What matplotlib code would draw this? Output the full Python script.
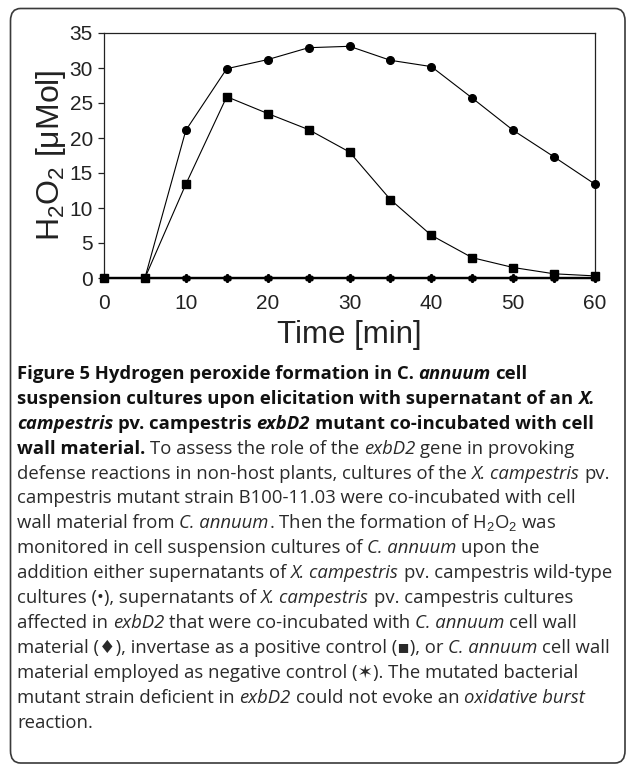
import matplotlib
matplotlib.use("Agg")
import matplotlib.pyplot as plt
from matplotlib.patches import FancyBboxPatch

plt.rcParams['mathtext.fontset'] = 'custom'
plt.rcParams['mathtext.rm'] = 'Liberation Sans'
plt.rcParams['mathtext.it'] = 'Liberation Sans:italic'
plt.rcParams['mathtext.bf'] = 'Liberation Sans:bold'

# data
time_min = [0, 5, 10, 15, 20, 25, 30, 35, 40, 45, 50, 55, 60]
wild_type = [0, 0, 21.1, 29.9, 31.2, 32.9, 33.1, 31.1, 30.2, 25.7, 21.1, 17.3, 13.4]
invertase = [0, 0, 13.4, 25.9, 23.5, 21.2, 18.0, 11.2, 6.1, 2.9, 1.5, 0.6, 0.3]
exbd2_cwm = [0, 0, 0, 0, 0, 0, 0, 0, 0, 0, 0, 0, 0]
cell_wall = [0, 0, 0, 0, 0, 0, 0, 0, 0, 0, 0, 0, 0]

W, H = 627, 767
fig = plt.figure(figsize=(W / 100, H / 100), dpi=100)

# rounded frame around figure + caption
frame = FancyBboxPatch((10.5 / W, 1 - 763 / H), (625 - 10.5) / W, (763 - 8.5) / H,
                       boxstyle="round,pad=0,rounding_size=0.016",
                       transform=fig.transFigure, fill=False, edgecolor='#3a3a3a',
                       linewidth=1.2)
fig.patches.append(frame)

ax = fig.add_axes([104 / W, 1 - 278 / H, (595 - 104) / W, (278 - 33) / H])
ax.plot(time_min, cell_wall, color='black', lw=0.8, marker=(6, 2, 0), ms=6, mew=1.2, clip_on=False, zorder=3)
ax.plot(time_min, exbd2_cwm, color='black', lw=1.6, marker='D', ms=4, clip_on=False, zorder=3)
ax.plot(time_min, invertase, color='black', lw=0.8, marker='s', ms=5.5, clip_on=False, zorder=4)
ax.plot(time_min, wild_type, color='black', lw=0.8, marker='o', ms=5.5, clip_on=False, zorder=4)

ax.set_xlim(0, 60)
ax.set_ylim(0, 35)
ax.set_xticks(range(0, 61, 10))
ax.set_yticks(range(0, 36, 5))
for sp in ax.spines.values():
    sp.set_linewidth(0.9)
    sp.set_color('#222222')
ax.spines['bottom'].set_linewidth(1.6)
ax.tick_params(axis='x', length=0, pad=11.5, labelsize=15, colors='#222222')
ax.tick_params(axis='y', length=4, width=0.9, pad=4, labelsize=15, colors='#222222')
for lab in ax.get_xticklabels() + ax.get_yticklabels():
    lab.set_family('Liberation Sans')
ax.set_xlabel('Time [min]', fontsize=22.5, family='Liberation Sans', color='#222222', labelpad=5)
ax.set_ylabel('H$_2$O$_2$ [\u03bcMol]', fontsize=23, family='Liberation Sans', color='#222222', labelpad=1)

# caption, drawn line by line with mixed styles
B, BI, R, I = 'b', 'bi', 'r', 'i'
caption = [
    [("Figure 5 Hydrogen peroxide formation in C.", B), (" annuum", BI), (" cell", B)],
    [("suspension cultures upon elicitation with supernatant of an", B), (" X.", BI)],
    [("campestris", BI), (" pv. campestris", B), (" exbD2", BI), (" mutant co-incubated with cell", B)],
    [("wall material.", B), (" To assess the role of the", R), (" exbD2", I), (" gene in provoking", R)],
    [("defense reactions in non-host plants, cultures of the", R), (" X. campestris", I), (" pv.", R)],
    [("campestris mutant strain B100-11.03 were co-incubated with cell", R)],
    [("wall material from", R), (" C. annuum", I), (". Then the formation of H$_2$O$_2$ was", R)],
    [("monitored in cell suspension cultures of", R), (" C. annuum", I), (" upon the", R)],
    [("addition either supernatants of", R), (" X. campestris", I), (" pv. campestris wild-type", R)],
    [("cultures (\u2022), supernatants of", R), (" X. campestris", I), (" pv. campestris cultures", R)],
    [("affected in", R), (" exbD2", I), (" that were co-incubated with", R), (" C. annuum", I), (" cell wall", R)],
    [("material (\u2666), invertase as a positive control (\u25aa), or", R), (" C. annuum", I), (" cell wall", R)],
    [("material employed as negative control (\u2736). The mutated bacterial", R)],
    [("mutant strain deficient in", R), (" exbD2", I), (" could not evoke an", R), (" oxidative burst", I)],
    [("reaction.", R)],
]

cap_size = 13.3
fam = ['Open Sans', 'DejaVu Sans']
styles = {
    'b': dict(fontweight='bold', fontstyle='normal', color='#111111'),
    'bi': dict(fontweight='bold', fontstyle='italic', color='#111111'),
    'r': dict(fontweight='normal', fontstyle='normal', color='#2a2a2a'),
    'i': dict(fontweight='normal', fontstyle='italic', color='#2a2a2a'),
}

fig.canvas.draw()
renderer = fig.canvas.get_renderer()


def text_width(s, st):
    t = fig.text(0, 0, s, fontsize=cap_size, family=fam, **styles[st])
    w = t.get_window_extent(renderer).width
    t.remove()
    return w


space_w = {k: text_width('a a', k) - text_width('aa', k) for k in styles}

y0, dy = 379, 24.9
for i, line in enumerate(caption):
    x = 17.0
    y = y0 + i * dy
    for seg, st in line:
        if seg.startswith(' '):
            x += space_w[st]
            seg = seg[1:]
        t = fig.text(x / W, 1 - y / H, seg, fontsize=cap_size, family=fam,
                     va='baseline', ha='left', **styles[st])
        x += t.get_window_extent(renderer).width

fig.savefig('out.png', dpi=100)
